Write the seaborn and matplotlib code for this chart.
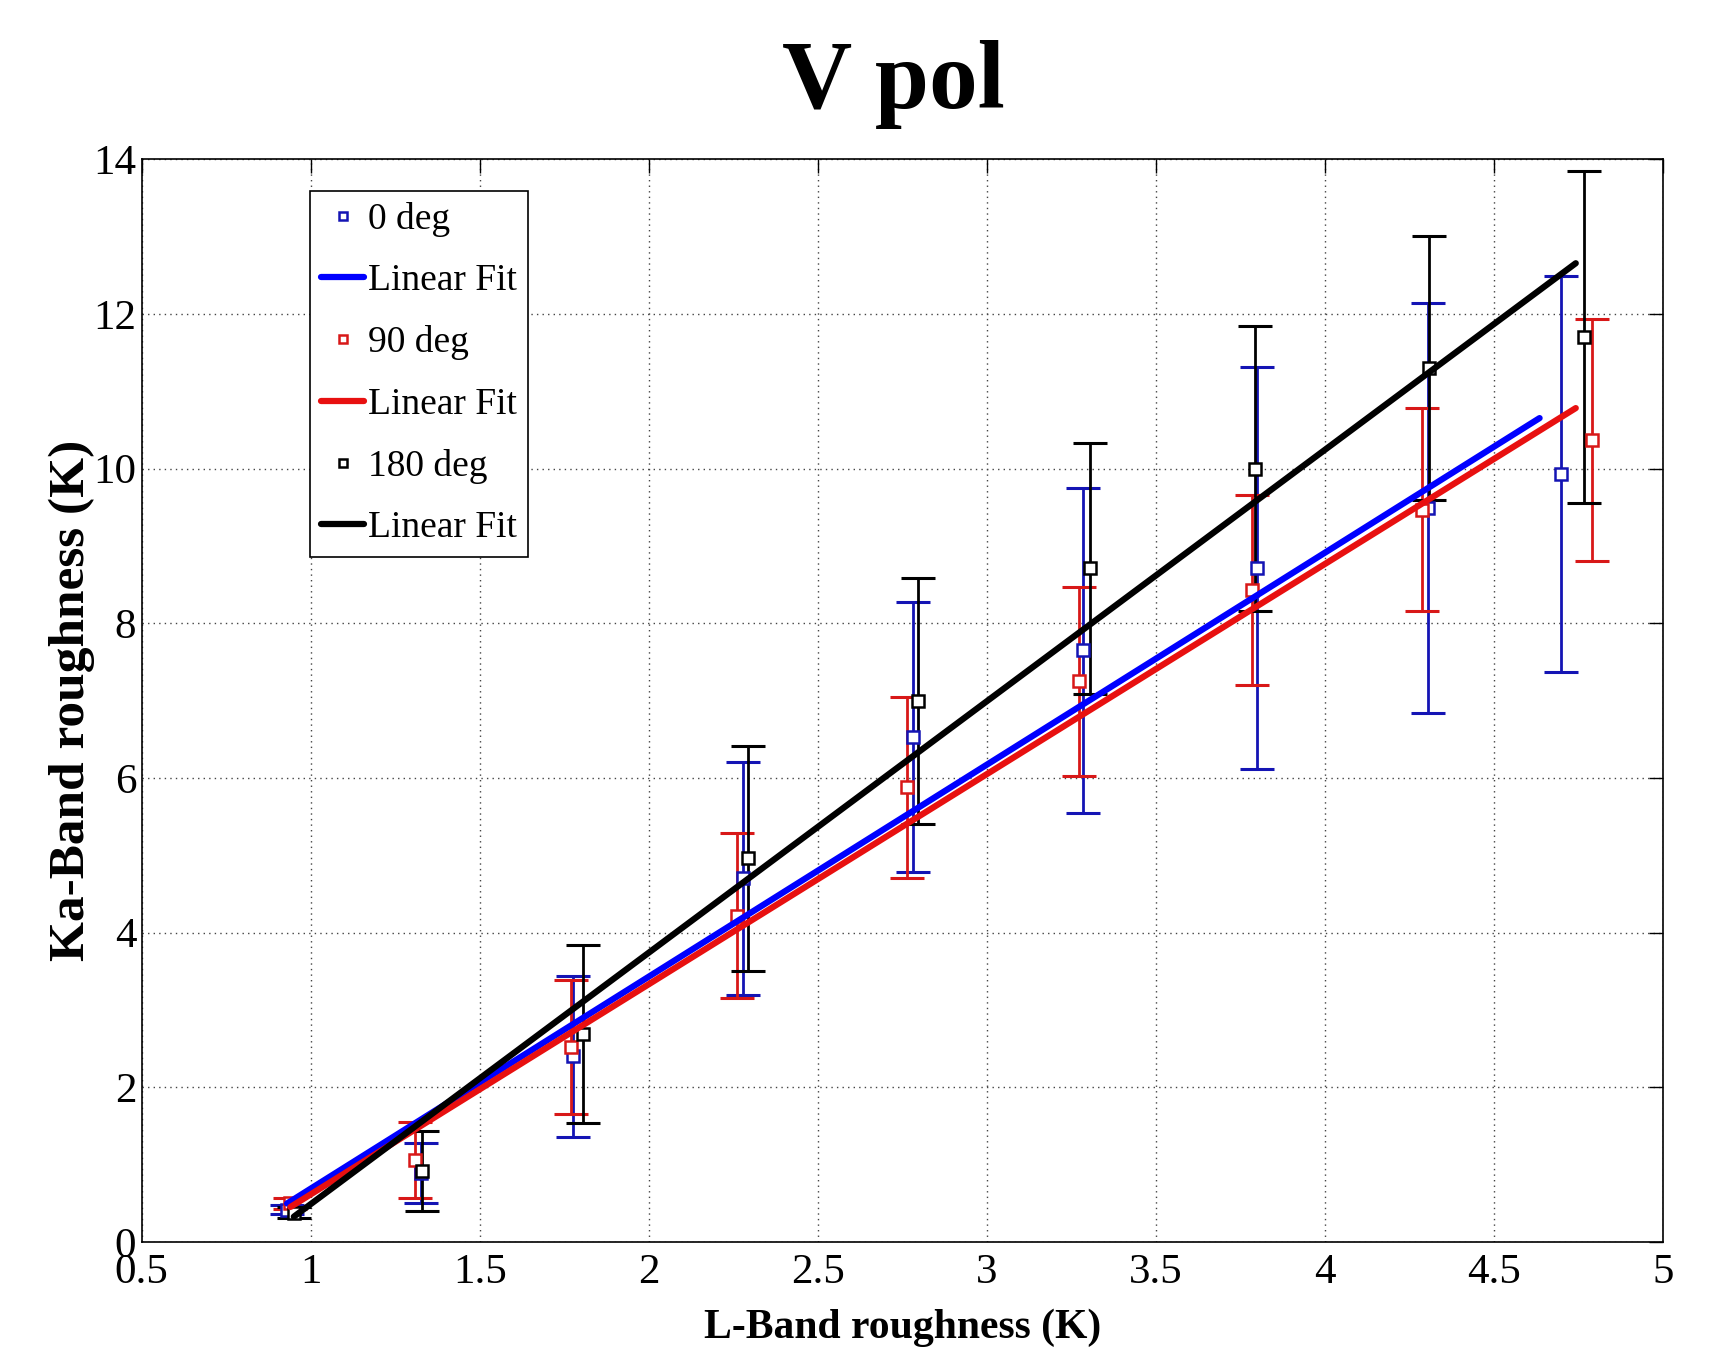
import matplotlib
matplotlib.use("Agg")
import matplotlib.pyplot as plt
import numpy as np
import pandas as pd
import seaborn as sns

# values
x_0 = [0.93, 1.326, 1.777, 2.28, 2.781, 3.286, 3.80, 4.305, 4.70]
y_0 = [0.42, 0.89, 2.40, 4.70, 6.53, 7.65, 8.71, 9.49, 9.93]
err_0 = [0.06, 0.39, 1.04, 1.50, 1.75, 2.10, 2.60, 2.65, 2.56]

x_90 = [0.94, 1.309, 1.769, 2.262, 2.765, 3.274, 3.784, 4.287, 4.79]
y_90 = [0.50, 1.06, 2.52, 4.22, 5.88, 7.25, 8.43, 9.47, 10.37]
err_90 = [0.07, 0.49, 0.87, 1.07, 1.17, 1.22, 1.23, 1.31, 1.56]

x_180 = [0.95, 1.33, 1.807, 2.295, 2.798, 3.306, 3.794, 4.308, 4.768]
y_180 = [0.38, 0.92, 2.69, 4.96, 7.00, 8.71, 10.00, 11.30, 11.70]
err_180 = [0.07, 0.52, 1.15, 1.45, 1.59, 1.62, 1.84, 1.71, 2.15]

series_names = ["0 deg", "90 deg", "180 deg"]
fit_slope = [2.74, 2.716, 3.25]
fit_intercept = [-2.05, -2.10, -2.76]
fit_xstart = [0.93, 0.94, 0.95]
fit_xend = [4.636, 4.743, 4.743]

x_ticks = [0.5, 1, 1.5, 2, 2.5, 3, 3.5, 4, 4.5, 5]
x_ticklabels = ["0.5", "1", "1.5", "2", "2.5", "3", "3.5", "4", "4.5", "5"]
y_ticks = [0, 2, 4, 6, 8, 10, 12, 14]

sns.set_style("white")
plt.rcParams['font.family'] = ['Liberation Serif', 'DejaVu Serif']
plt.rcParams['text.color'] = 'black'
plt.rcParams['axes.labelcolor'] = 'black'
plt.rcParams['xtick.color'] = 'black'
plt.rcParams['ytick.color'] = 'black'

bar_colors = ['#1414b4', '#d81818', '#000000']
fit_colors = ['#0000ff', '#e81010', '#000000']

fig = plt.figure(figsize=(17.24, 13.49), dpi=100)
ax = fig.add_axes([0.0822, 0.0793, 0.8822, 0.8027])

xs = [x_0, x_90, x_180]
ys = [y_0, y_90, y_180]
errs = [err_0, err_90, err_180]

marker_h = []
fit_h = []
for i in range(3):
    ax.errorbar(xs[i], ys[i], yerr=errs[i], fmt='none', ecolor=bar_colors[i],
                elinewidth=2, capsize=12, capthick=2.2, zorder=3)
    m, = ax.plot(xs[i], ys[i], ls='none', marker='s', ms=8, mfc='white',
                 mec=bar_colors[i], mew=1.8, zorder=4)
    marker_h.append(m)

    fx = np.array([fit_xstart[i], fit_xend[i]])
    fit_df = pd.DataFrame({"x": fx, "y": fit_slope[i] * fx + fit_intercept[i]})
    sns.lineplot(data=fit_df, x="x", y="y", ax=ax, color=fit_colors[i], lw=4.5,
                 zorder=5, legend=False)
    fit_h.append(ax.lines[-1])

ax.set_xlim(0.5, 5)
ax.set_ylim(0, 14)
ax.set_xticks(x_ticks)
ax.set_xticklabels(x_ticklabels)
ax.set_yticks(y_ticks)
ax.tick_params(direction='in', top=True, right=True, length=10, width=1,
               labelsize=31)
ax.tick_params(axis='x', pad=8)
ax.tick_params(axis='y', pad=4)
ax.grid(True, color='#444444', linestyle=(0, (1, 3)), linewidth=1.0)
for s in ax.spines.values():
    s.set_visible(True)
    s.set_color('black')
    s.set_linewidth(1.2)

ax.set_xlabel("L-Band roughness (K)", fontsize=30, fontweight='bold', va='baseline')
ax.xaxis.set_label_coords(0.5, -0.089)
ax.set_ylabel("Ka-Band roughness (K)", fontsize=37, fontweight='bold', va='center')
ax.yaxis.set_label_coords(-0.046, 0.5)

fig.text(0.518, 0.920, "V pol", fontsize=70, fontweight='bold', ha='center', va='baseline')

handles = []
labels = []
for i in range(3):
    handles += [marker_h[i], fit_h[i]]
    labels += [series_names[i], "Linear Fit"]
leg = ax.legend(handles, labels, loc='upper left', bbox_to_anchor=(0.1107, 0.971),
                borderaxespad=0, fontsize=27, frameon=True, fancybox=False,
                edgecolor='black', framealpha=1, handlelength=1.15,
                handletextpad=0.1, labelspacing=0.72, borderpad=0.3,
                markerscale=0.8)
leg.get_frame().set_linewidth(1.2)

fig.savefig("out.png", dpi=100, facecolor='white')
